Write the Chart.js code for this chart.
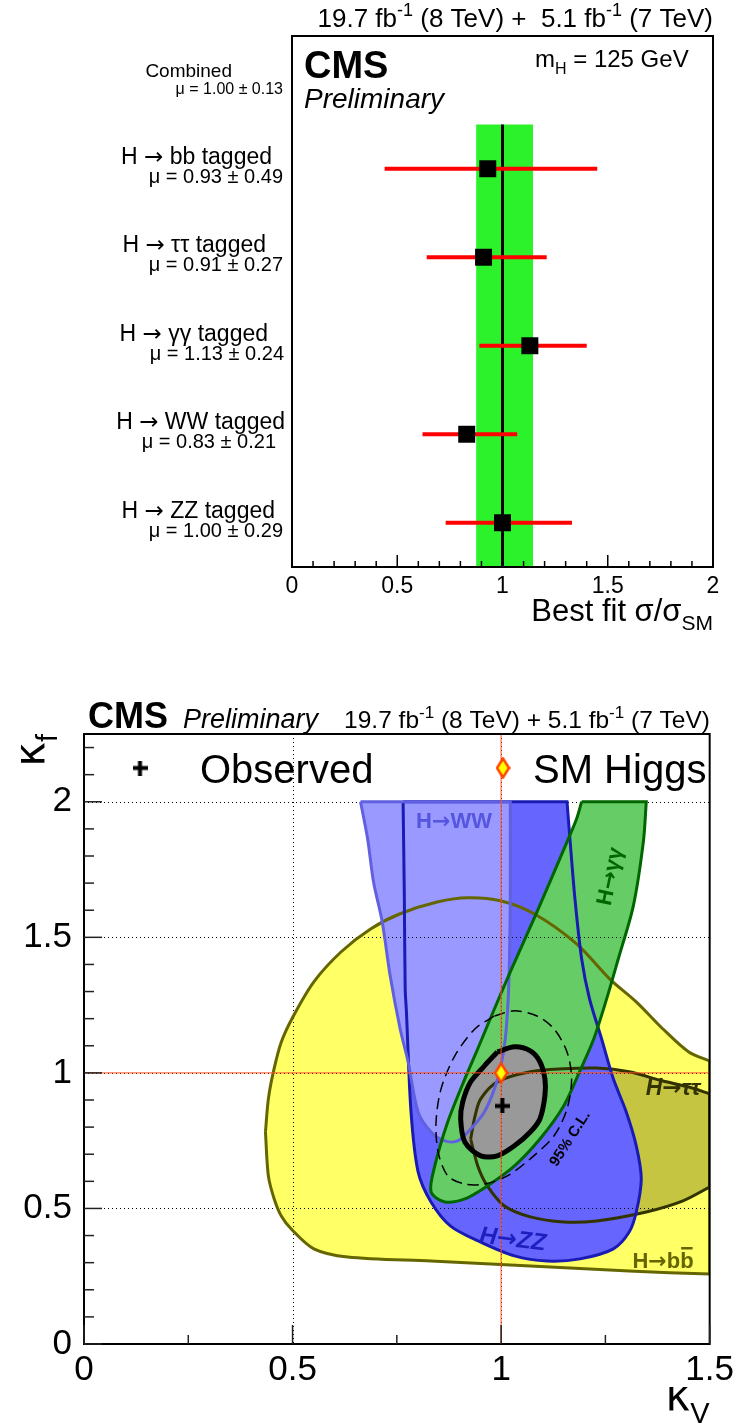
<!DOCTYPE html>
<html>
<head>
<meta charset="utf-8">
<script src="https://cdn.jsdelivr.net/npm/chart.js@4.4.1/dist/chart.umd.min.js"></script>
<style>
  html, body { margin: 0; padding: 0; background: #fff; }
  #wrap { position: relative; width: 739px; height: 1425px; }
  #muChart { position: absolute; left: 0; top: 0; }
  #kappaChart { position: absolute; left: 0; top: 650px; }
</style>
</head>
<body>
<div id="wrap">
  <canvas id="muChart" width="739" height="650"></canvas>
  <canvas id="kappaChart" width="739" height="775"></canvas>
</div>
<script>
// ---- top panel: best fit signal strength per tagged category ----
const channels = ['H \u2192 bb tagged', 'H \u2192 \u03c4\u03c4 tagged', 'H \u2192 \u03b3\u03b3 tagged', 'H \u2192 WW tagged', 'H \u2192 ZZ tagged'];
const muBest = [0.93, 0.91, 1.13, 0.83, 1.00];
const muErr = [0.49, 0.27, 0.24, 0.21, 0.29];
const muLow = [0.44, 0.64, 0.89, 0.62, 0.73];
const muHigh = [1.45, 1.21, 1.40, 1.07, 1.33];
const combinedMu = 1.00;
const combinedErr = 0.13;
const combinedBand = [0.875, 1.145];

// ---- bottom panel: (kappa_V, kappa_f) 68% CL contours ----
const bbContour = [[0.435,0.782],[0.442,0.904],[0.454,1.004],[0.473,1.114],[0.502,1.210],[0.551,1.336],[0.616,1.446],[0.687,1.531],[0.758,1.587],[0.849,1.631],[0.920,1.646],[0.998,1.635],[1.079,1.587],[1.181,1.476],[1.260,1.347],[1.324,1.262],[1.388,1.162],[1.450,1.077],[1.5,1.044],[1.5,0.258],[1.307,0.269],[1.070,0.288],[0.832,0.306],[0.632,0.321],[0.551,0.351],[0.497,0.424],[0.473,0.472],[0.456,0.535],[0.442,0.620]];
const tautauContour = [[0.927,0.756],[0.937,0.838],[0.951,0.904],[0.991,0.967],[1.070,1.004],[1.150,1.015],[1.229,1.018],[1.307,1.004],[1.388,0.970],[1.450,0.948],[1.5,0.923],[1.5,0.579],[1.436,0.528],[1.348,0.487],[1.229,0.454],[1.150,0.450],[1.070,0.469],[1.008,0.509],[0.967,0.583],[0.944,0.657]];
const zzContour = [[0.765,2.0],[0.768,1.642],[0.770,1.310],[0.773,1.225],[0.784,0.856],[0.801,0.635],[0.832,0.524],[0.879,0.435],[0.951,0.376],[1.032,0.325],[1.110,0.306],[1.189,0.314],[1.269,0.351],[1.307,0.413],[1.324,0.487],[1.336,0.609],[1.324,0.731],[1.300,0.856],[1.269,0.978],[1.241,1.125],[1.212,1.273],[1.193,1.421],[1.177,1.642],[1.165,1.863],[1.158,2.0]];
const wwContour = [[0.663,2.0],[0.680,1.863],[0.694,1.705],[0.715,1.557],[0.734,1.358],[0.758,1.162],[0.777,1.041],[0.801,0.856],[0.832,0.782],[0.865,0.749],[0.896,0.749],[0.927,0.793],[0.960,0.856],[0.984,0.941],[0.998,1.015],[1.010,1.125],[1.017,1.273],[1.020,1.421],[1.022,1.642],[1.022,2.0]];
const ggContour = [[1.193,2.0],[1.181,1.937],[1.158,1.852],[1.086,1.594],[1.022,1.373],[0.979,1.218],[0.944,1.089],[0.913,0.978],[0.872,0.819],[0.841,0.657],[0.832,0.561],[0.865,0.524],[0.913,0.535],[0.967,0.583],[1.032,0.657],[1.093,0.756],[1.150,0.878],[1.188,1.004],[1.222,1.125],[1.253,1.273],[1.281,1.421],[1.317,1.616],[1.341,1.852],[1.348,2.0]];
const comb68Contour = [[0.991,1.077],[1.032,1.096],[1.070,1.081],[1.093,1.041],[1.105,0.978],[1.105,0.915],[1.093,0.830],[1.070,0.782],[1.032,0.731],[0.991,0.694],[0.951,0.694],[0.913,0.745],[0.903,0.830],[0.908,0.893],[0.927,0.967],[0.960,1.026]];
const comb95Contour = [[0.984,1.210],[1.032,1.229],[1.086,1.210],[1.127,1.162],[1.158,1.077],[1.169,0.978],[1.158,0.867],[1.127,0.768],[1.070,0.683],[1.015,0.620],[0.960,0.590],[0.913,0.590],[0.872,0.620],[0.849,0.708],[0.844,0.819],[0.856,0.941],[0.889,1.063],[0.937,1.162]];
const observed = [1.003, 0.878];
const smPoint = [1.0, 1.0];

const FONT = "'Liberation Sans', Arial, Helvetica, sans-serif";
const SYM = "'DejaVu Sans', sans-serif";
Chart.defaults.font.family = FONT;
Chart.defaults.color = '#000';

// text with super/subscripts: parts = [[text, mode, family]], mode 1 = sup, -1 = sub
function richText(ctx, parts, x, y, size, align, style) {
  const fontFor = (m, f) => (style || '') + ' ' + (m ? Math.round(size * 0.68) : size) + 'px ' + (f || FONT);
  let w = 0;
  parts.forEach(([t, m, f]) => { ctx.font = fontFor(m, f); w += ctx.measureText(t).width; });
  let cx = align === 'right' ? x - w : align === 'center' ? x - w / 2 : x;
  ctx.textAlign = 'left';
  ctx.textBaseline = 'alphabetic';
  parts.forEach(([t, m, f]) => {
    ctx.font = fontFor(m, f);
    const dy = m === 1 ? -size * 0.42 : m === -1 ? size * 0.3 : 0;
    ctx.fillText(t, cx, y + dy);
    cx += ctx.measureText(t).width;
  });
  return w;
}

// split a label so the arrow comes from a font with a long arrow glyph
function arrowParts(text) {
  const bits = text.split('\u2192');
  return bits.length === 2 ? [[bits[0], 0], ['\u2192', 0, SYM], [bits[1], 0]] : [[text, 0]];
}

function seg(ctx, x1, y1, x2, y2) {
  ctx.beginPath(); ctx.moveTo(x1, y1); ctx.lineTo(x2, y2); ctx.stroke();
}

const tickFmt = v => String(+v.toFixed(2));

// ================= top chart =================
const rowLabelRight = [272, 266, 268, 285, 275];
const rowMuRight = [283, 283, 284, 276, 283];

const muDecor = {
  id: 'muDecor',
  afterDraw(chart) {
    const { ctx, chartArea: a, scales: { x, y } } = chart;
    ctx.save();
    ctx.fillStyle = '#000';
    ctx.strokeStyle = '#000';
    ctx.lineWidth = 2;
    ctx.strokeRect(a.left, a.top, a.right - a.left, a.bottom - a.top);
    ctx.lineWidth = 1.5;
    for (let i = 0; i <= 20; i++) {
      const px = x.getPixelForValue(i / 10);
      seg(ctx, px, a.bottom, px, a.bottom - (i % 5 === 0 ? 12 : 6));
    }
    // category labels
    channels.forEach((c, i) => {
      const py = y.getPixelForValue(i + 1);
      richText(ctx, arrowParts(c), rowLabelRight[i], py - 5, 23, 'right');
      richText(ctx, [['\u03bc = ' + muBest[i].toFixed(2) + ' \u00b1 ' + muErr[i].toFixed(2), 0]], rowMuRight[i], py + 14, 20, 'right');
    });
    const py0 = y.getPixelForValue(0);
    richText(ctx, [['Combined', 0]], 232, py0 - 3, 19, 'right');
    richText(ctx, [['\u03bc = ' + combinedMu.toFixed(2) + ' \u00b1 ' + combinedErr.toFixed(2), 0]], 283, py0 + 14, 16, 'right');
    // titles
    richText(ctx, [['19.7 fb', 0], ['-1', 1], [' (8 TeV) +  5.1 fb', 0], ['-1', 1], [' (7 TeV)', 0]], a.right, 27, 26, 'right');
    ctx.font = 'bold 38px ' + FONT;
    ctx.textAlign = 'left';
    ctx.fillText('CMS', a.left + 12, 78);
    ctx.font = 'italic 28px ' + FONT;
    ctx.fillText('Preliminary', a.left + 12, 108);
    richText(ctx, [['m', 0], ['H', -1], [' = 125 GeV', 0]], 535, 67, 24, 'left');
    richText(ctx, [['Best fit \u03c3/\u03c3', 0], ['SM', -1]], a.right, 621, 31, 'right');
    ctx.restore();
  }
};

new Chart(document.getElementById('muChart'), {
  type: 'scatter',
  data: {
    datasets: [
      {
        data: [{ x: combinedBand[0], y: 0.5 }, { x: combinedBand[1], y: 0.5 }, { x: combinedBand[1], y: 5.5 }, { x: combinedBand[0], y: 5.5 }, { x: combinedBand[0], y: 0.5 }],
        showLine: true, fill: 'shape', backgroundColor: '#2cf22c', borderColor: 'rgba(0,0,0,0)', borderWidth: 0, pointRadius: 0, tension: 0, order: 4
      },
      {
        data: [{ x: combinedMu, y: 0.5 }, { x: combinedMu, y: 5.5 }],
        showLine: true, borderColor: '#000', borderWidth: 3, pointRadius: 0, order: 3
      },
      ...channels.map((c, i) => ({
        data: [{ x: muLow[i], y: i + 1 }, { x: muHigh[i], y: i + 1 }],
        showLine: true, borderColor: '#ff0000', borderWidth: 4, pointRadius: 0, order: 2
      })),
      {
        data: muBest.map((m, i) => ({ x: m, y: i + 1 })),
        pointStyle: 'rect', pointRadius: 12, backgroundColor: '#000', borderColor: '#000', borderWidth: 0, order: 1
      }
    ]
  },
  options: {
    responsive: false,
    animation: false,
    events: [],
    layout: { padding: { left: 292, top: 36, right: 26, bottom: 0 } },
    plugins: { legend: { display: false }, tooltip: { enabled: false } },
    scales: {
      x: {
        type: 'linear', min: 0, max: 2,
        ticks: { stepSize: 0.5, font: { size: 23 }, padding: 6, color: '#000', callback: tickFmt },
        grid: { display: false, drawTicks: false },
        border: { display: false },
        afterFit(s) { s.height = 83; }
      },
      y: { type: 'linear', display: false, min: -0.5, max: 5.5, reverse: true }
    }
  },
  plugins: [muDecor]
});

// ================= bottom chart =================
function crossImage(s, t) {
  const c = document.createElement('canvas');
  c.width = s; c.height = s;
  const g = c.getContext('2d');
  g.fillStyle = '#000';
  g.fillRect(0, (s - t) / 2, s, t);
  g.fillRect((s - t) / 2, 0, t, s);
  return c;
}
function diamondImage(w, h) {
  const c = document.createElement('canvas');
  c.width = w; c.height = h;
  const g = c.getContext('2d');
  g.beginPath();
  g.moveTo(w / 2, 1.5); g.lineTo(w - 1.5, h / 2); g.lineTo(w / 2, h - 1.5); g.lineTo(1.5, h / 2);
  g.closePath();
  g.fillStyle = '#ffff00'; g.fill();
  g.lineWidth = 2.5; g.strokeStyle = '#ff4400'; g.stroke();
  return c;
}
const crossImg = crossImage(15, 4);
const diamondImg = diamondImage(15, 22);

// closed path; points on the frame edge are doubled so the spline keeps sharp corners there
function closedPath(arr) {
  const out = [];
  arr.concat([arr[0]]).forEach(([x, y]) => {
    out.push({ x, y });
    if (x >= 1.5 || y >= 2.0) out.push({ x, y });
  });
  return out;
}

const contours = [
  { pts: bbContour, fill: '#ffff66', line: '#666600', w: 3 },
  { pts: tautauContour, fill: 'rgba(140,140,30,0.5)', line: '#333300', w: 3 },
  { pts: zzContour, fill: '#6666ff', line: '#1a1ab4', w: 3 },
  { pts: wwContour, fill: '#9999ff', line: '#6060e0', w: 3 },
  { pts: ggContour, fill: '#66cc66', line: '#006600', w: 3 },
  { pts: comb95Contour, fill: null, line: '#000', w: 1.5, dash: [11, 6] },
  { pts: comb68Contour, fill: '#999999', line: '#000', w: 5 }
];

const kDatasets = contours.map((c, i) => ({
  data: closedPath(c.pts),
  showLine: true,
  fill: c.fill ? 'shape' : false,
  backgroundColor: c.fill || 'rgba(0,0,0,0)',
  borderColor: c.line,
  borderWidth: c.w,
  borderDash: c.dash || [],
  pointRadius: 0,
  tension: 0.3,
  order: 100 - i
}));
kDatasets.push(
  { data: [{ x: 0, y: smPoint[1] }, { x: 1.5, y: smPoint[1] }], showLine: true, borderColor: '#ff5020', borderWidth: 1, pointRadius: 0, order: 20 },
  { data: [{ x: smPoint[0], y: 0 }, { x: smPoint[0], y: 2.25 }], showLine: true, borderColor: '#ff5020', borderWidth: 1, pointRadius: 0, order: 19 },
  { data: [{ x: observed[0], y: observed[1] }], pointStyle: crossImg, pointRadius: 8, order: 2 },
  { data: [{ x: smPoint[0], y: smPoint[1] }], pointStyle: diamondImg, pointRadius: 11, order: 1 }
);

function rotatedLabel(ctx, text, x, y, ang, size, style, color) {
  ctx.save();
  ctx.translate(x, y);
  ctx.rotate(ang);
  ctx.fillStyle = color;
  richText(ctx, arrowParts(text), 0, size * 0.36, size, 'center', style);
  ctx.restore();
}

const kappaDecor = {
  id: 'kappaDecor',
  beforeDatasetsDraw(chart) {
    const { ctx, chartArea: a, scales: { x, y } } = chart;
    ctx.save();
    ctx.strokeStyle = '#000';
    ctx.lineWidth = 1;
    ctx.setLineDash([1, 3]);
    [0.5, 1].forEach(v => { const px = Math.round(x.getPixelForValue(v)) + 0.5; seg(ctx, px, a.top, px, a.bottom); });
    [0.5, 1, 1.5, 2].forEach(v => { const py = Math.round(y.getPixelForValue(v)) + 0.5; seg(ctx, a.left, py, a.right, py); });
    ctx.restore();
  },
  afterDatasetsDraw(chart) {
    const { ctx } = chart;
    const o = -650;
    rotatedLabel(ctx, 'H\u2192WW', 454, 820 + o, 0, 22, 'bold', '#5555dd');
    rotatedLabel(ctx, 'H\u2192\u03b3\u03b3', 609, 876 + o, -1.36, 22, 'bold', '#006600');
    rotatedLabel(ctx, 'H\u2192\u03c4\u03c4', 673, 1087 + o, 0, 23, 'bold italic', '#333300');
    rotatedLabel(ctx, 'H\u2192ZZ', 513, 1238 + o, 0.12, 24, 'bold italic', '#1f1fbf');
    rotatedLabel(ctx, '95% C.L.', 569, 1138 + o, -1.0, 15, 'bold', '#000');
    // H -> b bbar
    ctx.save();
    ctx.fillStyle = '#666600';
    const w = richText(ctx, arrowParts('H\u2192bb'), 663, 1268 + o, 22, 'center', 'bold');
    ctx.font = 'bold 22px ' + FONT;
    const wb = ctx.measureText('b').width;
    ctx.fillRect(663 + w / 2 - wb + 1, 1268 + o - 21, wb - 2, 2.5);
    ctx.restore();
  },
  afterDraw(chart) {
    const { ctx, chartArea: a, scales: { x, y } } = chart;
    ctx.save();
    ctx.strokeStyle = '#000';
    ctx.fillStyle = '#000';
    ctx.lineWidth = 2;
    ctx.strokeRect(a.left, a.top, a.right - a.left, a.bottom - a.top);
    ctx.lineWidth = 1.5;
    ctx.strokeStyle = '#222';
    for (let i = 0; i <= 22; i++) {
      const py = y.getPixelForValue(i / 10);
      seg(ctx, a.left, py, a.left + (i % 5 === 0 ? 18 : 10), py);
    }
    for (let i = 0; i <= 6; i++) {
      const px = x.getPixelForValue(i / 4);
      seg(ctx, px, a.bottom, px, a.bottom - (i % 2 === 0 ? 19 : 9));
    }
    // title line
    ctx.textAlign = 'left';
    ctx.textBaseline = 'alphabetic';
    ctx.font = 'bold 36px ' + FONT;
    ctx.fillText('CMS', 88, 78);
    ctx.font = 'italic 27px ' + FONT;
    ctx.fillText('Preliminary', 183, 78);
    richText(ctx, [['19.7 fb', 0], ['-1', 1], [' (8 TeV) + 5.1 fb', 0], ['-1', 1], [' (7 TeV)', 0]], 710, 78, 24.5, 'right');
    // legend
    ctx.drawImage(crossImg, 140 - 7.5, 768 - 650 - 7.5);
    ctx.drawImage(diamondImg, 503 - 7.5, 768 - 650 - 11);
    ctx.font = '40px ' + FONT;
    ctx.fillText('Observed', 200, 783 - 650);
    ctx.fillText('SM Higgs', 533, 783 - 650);
    // axis titles
    ctx.save();
    ctx.translate(44, a.top);
    ctx.rotate(-Math.PI / 2);
    richText(ctx, [['\u03ba', 0, SYM], ['f', -1]], 0, 0, 42, 'right');
    ctx.restore();
    richText(ctx, [['\u03ba', 0, SYM], ['V', -1]], a.right, 1410 - 650, 42, 'right');
    ctx.restore();
  }
};

new Chart(document.getElementById('kappaChart'), {
  type: 'scatter',
  data: { datasets: kDatasets },
  options: {
    responsive: false,
    animation: false,
    events: [],
    layout: { padding: { left: 0, top: 84, right: 25, bottom: 0 } },
    plugins: { legend: { display: false }, tooltip: { enabled: false }, filler: { drawTime: 'beforeDatasetsDraw' } },
    scales: {
      x: {
        type: 'linear', min: 0, max: 1.5,
        ticks: { stepSize: 0.5, font: { size: 35 }, padding: 5, color: '#000', includeBounds: false, callback: tickFmt },
        grid: { display: false, drawTicks: false },
        border: { display: false },
        afterFit(s) { s.height = 81; }
      },
      y: {
        type: 'linear', min: 0, max: 2.25,
        ticks: { stepSize: 0.5, font: { size: 35 }, padding: 12, color: '#000', includeBounds: false, callback: tickFmt },
        grid: { display: false, drawTicks: false },
        border: { display: false },
        afterFit(s) { s.width = 84; }
      }
    }
  },
  plugins: [kappaDecor]
});
</script>
</body>
</html>
